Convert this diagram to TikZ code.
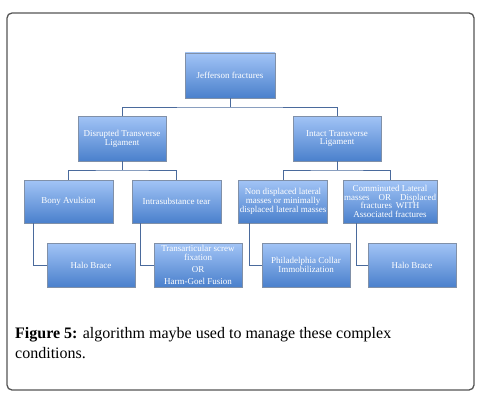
\documentclass[tikz,border=0pt]{standalone}
\usepackage{fontspec}
\setmainfont{Liberation Serif}
\usetikzlibrary{shadows}
\definecolor{boxtop}{HTML}{A2C4F6}
\definecolor{boxbot}{HTML}{4A80CC}
\definecolor{boxedge}{HTML}{8090A8}
\definecolor{linkcol}{HTML}{4A6A9C}
\definecolor{framecol}{HTML}{555555}
\tikzset{
  flowbox/.style={rectangle, draw=boxedge, line width=0.6pt, top color=boxtop, bottom color=boxbot,
    minimum width=88pt, minimum height=45pt, inner sep=1pt, align=center, text=white,
    font=\fontsize{9}{8.8}\selectfont,
    drop shadow={shadow xshift=1.2pt, shadow yshift=-1.2pt, opacity=0.35, fill=black}},
  lowbox/.style={flowbox, minimum height=43pt},
  link/.style={draw=linkcol, line width=0.9pt},
}
\begin{document}
\begin{tikzpicture}[x=1pt, y=-1pt]
\useasboundingbox (0,0) rectangle (484,404);
\draw[framecol, line width=1.3pt, rounded corners=5pt] (7,13) rectangle (474,390);

\node[flowbox, minimum width=90pt] (jef) at (230,75.5) {Jefferson fractures};
\node[flowbox] (dis) at (122,138.5) {Disrupted Transverse\\Ligament};
\node[flowbox] (int) at (337,138.5) {Intact Transverse\\Ligament};

\node[lowbox, minimum width=89pt] (bony) at (68.5,201.5) {Bony Avulsion};
\node[lowbox, minimum width=89pt] (intra) at (176.5,201.5) {Intrasubstance tear};
\node[lowbox] (non) at (283,201.5) {Non displaced lateral\\masses or minimally\\displaced lateral masses};
\node[lowbox] (comm) at (390,201.5) {Comminuted Lateral\\masses\hspace{1em}OR\hspace{1em}Displaced\\fractures\hspace{0.4em}WITH\\Associated fractures};

\node[flowbox, minimum height=44pt] (halo1) at (91,265) {Halo Brace};
\node[flowbox, minimum height=44pt] (trans) at (198,265) {Transarticular screw\\fixation\\[3.5pt]OR\\[3pt]Harm-Goel Fusion};
\node[flowbox, minimum height=44pt] (phil) at (306,265) {Philadelphia Collar\\Immobilization};
\node[flowbox, minimum height=44pt] (halo2) at (412,265) {Halo Brace};

\coordinate (b1) at (230,107);
\coordinate (b2) at (122,170);
\coordinate (b3) at (337,170);
\draw[link] (jef.south) -- (b1);
\draw[link] (dis.north) |- (b1) -| (int.north);
\draw[link] (dis.south) -- (b2);
\draw[link] (bony.north) |- (b2) -| (intra.north);
\draw[link] (int.south) -- (b3);
\draw[link] (non.north) |- (b3) -| (comm.north);

\draw[link] ([xshift=-35.5pt]bony.south) |- (halo1.west);
\draw[link] ([xshift=-36.5pt]intra.south) |- (trans.west);
\draw[link] ([xshift=-34pt]non.south) |- (phil.west);
\draw[link] ([xshift=-34pt]comm.south) |- (halo2.west);

\node[anchor=north west, align=left, inner sep=0pt, font=\fontsize{16}{20}\selectfont] (cap) at (15,327)
  {\textbf{Figure 5:} algorithm maybe used to manage these complex\\conditions.};
\end{tikzpicture}
\end{document}
